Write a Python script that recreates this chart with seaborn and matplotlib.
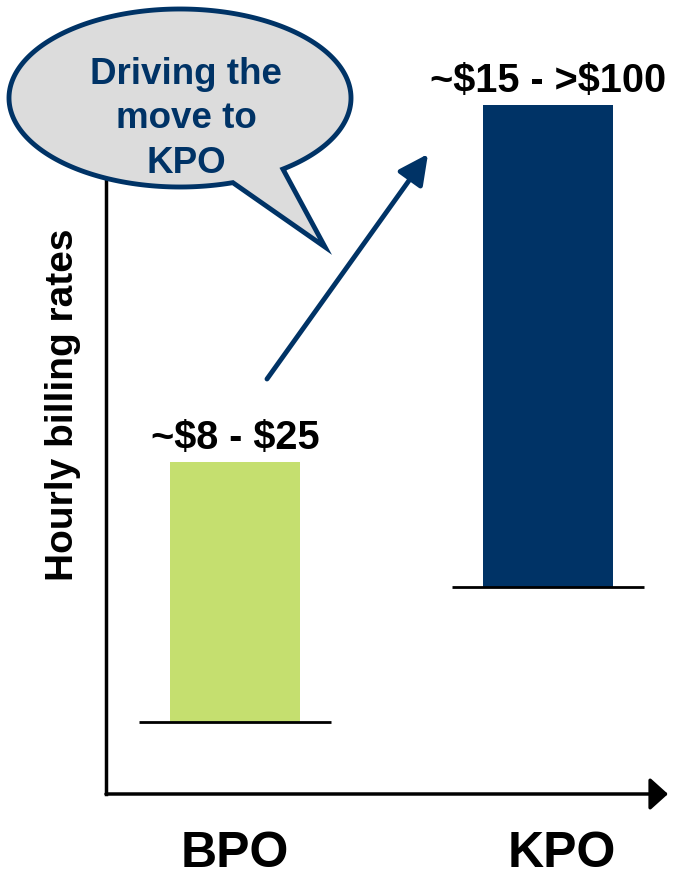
import numpy as np
import pandas as pd
import matplotlib
matplotlib.use("Agg")
import matplotlib.pyplot as plt
import matplotlib.transforms as mtransforms
import seaborn as sns
from matplotlib.patches import Polygon

# ---- data ----
categories = ["BPO", "KPO"]
range_low = [72, 207]          # relative position of lower end of billing range
range_high = [332, 689]        # relative position of upper end of billing range
range_labels = ["~\\$8 - \\$25", "~\\$15 - >\\$100"]
bar_colors = ["#C5DF6F", "#003366"]
bubble_text = "Driving the\nmove to\nKPO"
y_label = "Hourly billing rates"

NAVY = "#003366"

sns.set_theme(style="white")
plt.rcParams['font.family'] = ['Liberation Sans', 'DejaVu Sans']

W, H = 683, 878
fig = plt.figure(figsize=(W / 100, H / 100), dpi=100)
ax = fig.add_axes([106 / W, (H - 795) / H, (668 - 106) / W, (795 - 100) / H])

df = pd.DataFrame({"category": categories, "low": range_low, "high": range_high})
df["span"] = df["high"] - df["low"]

sns.barplot(data=df, x="category", y="span", bottom=df["low"].values,
            width=0.416, errorbar=None, saturation=1, color="#888888", ax=ax)
for p, c in zip(ax.patches, bar_colors):
    p.set_facecolor(c)
    p.set_edgecolor("none")

xpos = np.arange(len(categories))
ax.hlines(df["low"], xpos - 0.307, xpos + 0.307, color="black", lw=2, zorder=3)

for i, (h, lab) in enumerate(zip(df["high"], range_labels)):
    ax.annotate(lab, (i, h), xytext=(0, 4), textcoords="offset points",
                ha="center", va="bottom", fontsize=28.5, fontweight="bold",
                color="black", annotation_clip=False)

ax.set_xlim(-0.413, 1.385)
ax.set_ylim(0, 695)
for s in ["top", "right", "bottom"]:
    ax.spines[s].set_visible(False)
ax.spines["left"].set_color("black")
ax.spines["left"].set_linewidth(2.5)
ax.set_yticks([])
ax.set_xlabel("")
ax.tick_params(axis="x", length=0, pad=26)
for t in ax.get_xticklabels():
    t.set_fontsize(36)
    t.set_fontweight("bold")
    t.set_color("black")
# KPO category label sits slightly right of its bar in the reference
kpo_lbl = ax.get_xticklabels()[1]
kpo_lbl.set_transform(kpo_lbl.get_transform() +
                      mtransforms.ScaledTranslation(14 / 100, 0, fig.dpi_scale_trans))
ax.set_ylabel(y_label, fontsize=28, fontweight="bold", color="black")
ax.yaxis.set_label_coords(-0.045, 0.561)

# x-axis arrow
ax.annotate("", xy=(1, 0), xytext=(0, 0), xycoords="axes fraction",
            arrowprops=dict(arrowstyle="-|>,head_length=0.5,head_width=0.45",
                            mutation_scale=22, lw=2.5, color="black",
                            shrinkA=0, shrinkB=0), annotation_clip=False)

# overlay for speech bubble and trend arrow (pixel coordinates)
ov = fig.add_axes([0, 0, 1, 1])
ov.set_xlim(0, W)
ov.set_ylim(H, 0)
ov.axis("off")

t = np.radians(np.linspace(72, 413, 300))
cx, cy, a, b = 180, 99, 171, 89
pts = np.column_stack([cx + a * np.cos(t), cy + b * np.sin(t)])
pts = np.vstack([pts, [[325, 248]]])
ov.add_patch(Polygon(pts, closed=True, facecolor="#DCDCDC", edgecolor=NAVY,
                     lw=3.5, joinstyle="miter"))
ov.text(186, 119, bubble_text, ha="center", va="center", color=NAVY,
        fontsize=26.5, fontweight="bold", linespacing=1.36)

ov.annotate("", xy=(428, 155), xytext=(267, 380),
            arrowprops=dict(arrowstyle="-|>,head_length=0.6,head_width=0.3",
                            mutation_scale=30, lw=3.5, color=NAVY,
                            shrinkA=0, shrinkB=0))

fig.savefig("out.png", dpi=100)
